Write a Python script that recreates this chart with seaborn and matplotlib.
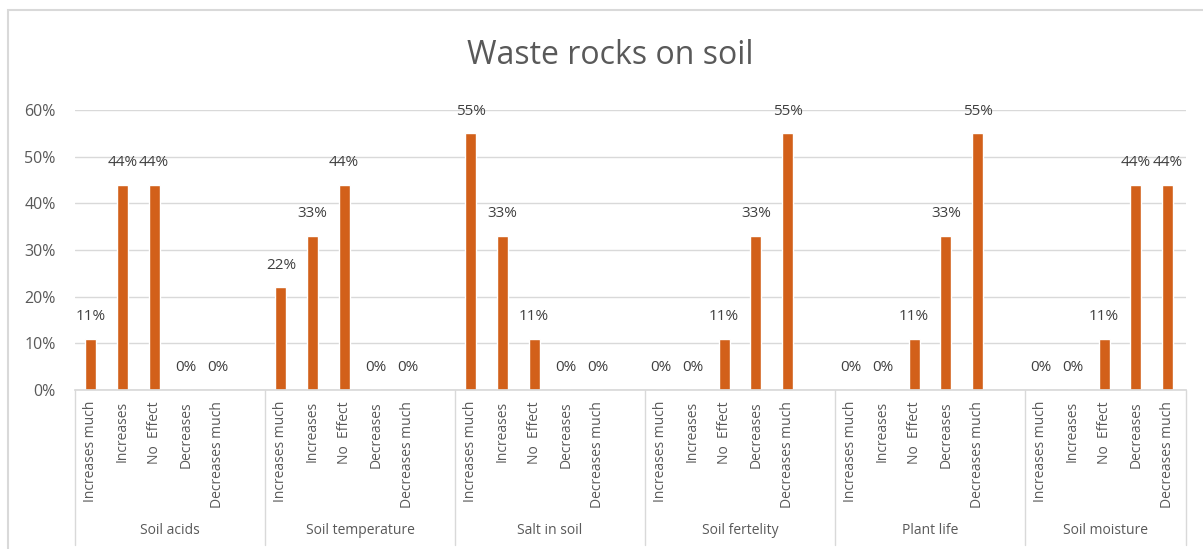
import matplotlib
matplotlib.use("Agg")
from matplotlib import pyplot as plt
from matplotlib.patches import Rectangle
import matplotlib.transforms as mtransforms
import pandas as pd
import seaborn as sns

# data
groups = ["Soil acids", "Soil temperature", "Salt in soil",
          "Soil fertelity", "Plant life", "Soil moisture"]
answers = ["Increases much", "Increases", "No  Effect", "Decreases", "Decreases much"]
soil_acids = [0.11, 0.44, 0.44, 0.0, 0.0]
soil_temperature = [0.22, 0.33, 0.44, 0.0, 0.0]
salt_in_soil = [0.55, 0.33, 0.11, 0.0, 0.0]
soil_fertelity = [0.0, 0.0, 0.11, 0.33, 0.55]
plant_life = [0.0, 0.0, 0.11, 0.33, 0.55]
soil_moisture = [0.0, 0.0, 0.11, 0.44, 0.44]
series = [soil_acids, soil_temperature, salt_in_soil,
          soil_fertelity, plant_life, soil_moisture]

BAR = "#D2601A"
TXT = "#595959"
FONT = ["Open Sans", "DejaVu Sans"]

rows = []
for g, (grp, vals) in enumerate(zip(groups, series)):
    for i, (ans, v) in enumerate(zip(answers, vals)):
        # each group takes 6 slots, the sixth one is empty (as in the Excel source)
        rows.append({"group": grp, "answer": ans, "value": v, "pos": g * 6 + i})
df = pd.DataFrame(rows)

sns.set_theme(style="white")
plt.rcParams["font.family"] = FONT

W, H = 1203, 549
fig = plt.figure(figsize=(W / 100, H / 100), dpi=100)
fig.patch.set_facecolor("white")

# plot area in pixels (the source chart is cut off on the right)
left, right, top, bottom = 75, 1186, 110, 390
ax = fig.add_axes([left / W, 1 - bottom / H, (right - left) / W, (bottom - top) / H])

sns.barplot(data=df, x="pos", y="value", native_scale=True, width=0.34,
            color=BAR, saturation=1, ax=ax, errorbar=None)

slot = 190 / 6.0  # px per slot
xmax = (right - left) / slot - 0.5
ax.set_xlim(-0.5, xmax)
ax.set_ylim(0, 0.6)
ax.set_yticks([i / 10 for i in range(7)])
ax.set_yticklabels([f"{i * 10}%" for i in range(7)], color=TXT, fontsize=11.5)
ax.tick_params(axis="y", length=0, pad=14)
ax.yaxis.grid(True, color="#D9D9D9", linewidth=1)
ax.set_axisbelow(True)
for s in ["top", "right", "left"]:
    ax.spines[s].set_visible(False)
ax.spines["bottom"].set_color("#D9D9D9")
ax.set_xlabel("")
ax.set_ylabel("")

ax.set_xticks(df["pos"])
ax.set_xticklabels(df["answer"], rotation=90, va="top", ha="center",
                   color=TXT, fontsize=10)
ax.tick_params(axis="x", length=0, pad=8)

# value labels
for p, v in zip(df["pos"], df["value"]):
    ax.annotate(f"{round(v * 100)}%", (p, v), xytext=(0, 16), textcoords="offset points",
                ha="center", va="center", color="#404040", fontsize=11)

# category table below the axis
trans = mtransforms.blended_transform_factory(ax.transData, ax.transAxes)
ybot = -(545 - bottom) / (bottom - top)
for g in range(len(groups) + 1):
    xb = min(g * 6 - 0.5, xmax)
    ax.plot([xb, xb], [0, ybot], transform=trans, color="#D9D9D9",
            linewidth=1, clip_on=False)
for g, grp in enumerate(groups):
    x0, x1 = g * 6 - 0.5, min(g * 6 + 5.5, xmax)
    ax.text((x0 + x1) / 2, -(530 - bottom) / (bottom - top), grp, transform=trans,
            ha="center", va="center", color=TXT, fontsize=10)

fig.text(610 / W, 1 - 56 / H, "Waste rocks on soil", ha="center", va="center",
         color=TXT, fontsize=23)

# chart border
fig.patches.append(Rectangle((8 / W, -0.05), 1.1, 1 - 10 / H + 0.05,
                             transform=fig.transFigure, fill=False,
                             edgecolor="#D9D9D9", linewidth=1.5))

fig.savefig("out.png", dpi=100)
